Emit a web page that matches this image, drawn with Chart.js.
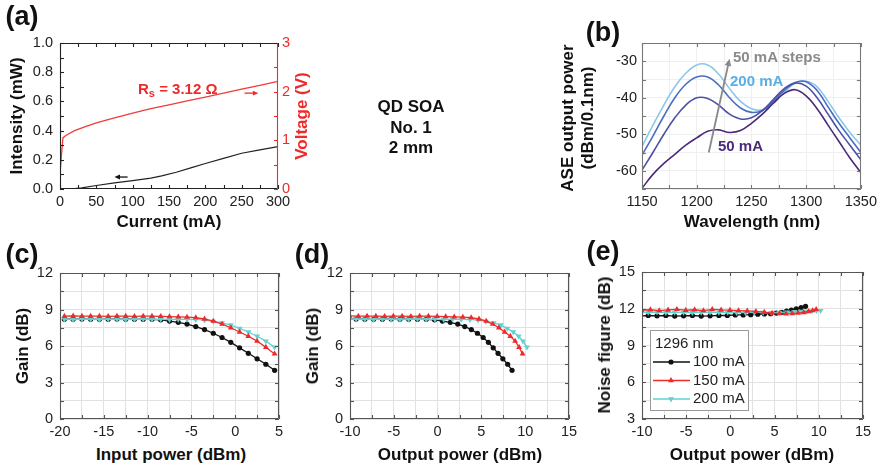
<!DOCTYPE html>
<html>
<head>
<meta charset="utf-8">
<script src="https://cdn.jsdelivr.net/npm/chart.js@4.4.1/dist/chart.umd.min.js"></script>
<style>
body { margin: 0; background: #fff; }
#fig { position: relative; width: 881px; height: 466px; overflow: hidden; background: #fff; font-family: "Liberation Sans", Arial, sans-serif; }
canvas { position: absolute; }
.t { position: absolute; font-weight: bold; font-size: 17px; white-space: nowrap; transform: translate(-50%, -50%); color: #111; }
.r { transform: translate(-50%, -50%) rotate(-90deg); }
.p { font-size: 27px; }
.a { position: absolute; font-weight: bold; font-size: 15px; white-space: nowrap; transform: translateY(-50%); }
</style>
</head>
<body>
<div id="fig">
  <canvas id="ca" width="300" height="215" style="left:0;top:0"></canvas>
  <canvas id="cb" width="281" height="215" style="left:600px;top:0"></canvas>
  <canvas id="cc" width="300" height="215" style="left:0;top:225px"></canvas>
  <canvas id="cd" width="300" height="215" style="left:290px;top:225px"></canvas>
  <canvas id="ce" width="299" height="215" style="left:582px;top:225px"></canvas>

  <div class="t p" style="left:22px;top:16px">(a)</div>
  <div class="t p" style="left:603px;top:32px">(b)</div>
  <div class="t p" style="left:22px;top:254px">(c)</div>
  <div class="t p" style="left:312px;top:254px">(d)</div>
  <div class="t p" style="left:603px;top:251px">(e)</div>

  <div class="t r" style="left:17px;top:116px">Intensity (mW)</div>
  <div class="t r" style="left:302px;top:116px;color:#ee2b2b">Voltage (V)</div>
  <div class="t" style="left:169px;top:222px">Current (mA)</div>
  <div class="a" style="left:138px;top:89px;color:#ee2b2b">R<sub style="font-size:11px;vertical-align:-3px">s</sub> = 3.12 Ω</div>

  <div class="t" style="left:411px;top:128px;text-align:center;line-height:20.5px">QD SOA<br>No. 1<br>2 mm</div>

  <div class="t r" style="left:568px;top:118px">ASE output power</div>
  <div class="t r" style="left:588px;top:118px">(dBm/0.1nm)</div>
  <div class="t" style="left:752px;top:222px">Wavelength (nm)</div>
  <div class="a" style="left:733px;top:56px;color:#8a8a8a">50 mA steps</div>
  <div class="a" style="left:730px;top:80px;color:#5aaee2">200 mA</div>
  <div class="a" style="left:718px;top:145px;color:#4a2a7c">50 mA</div>

  <div class="t r" style="left:23px;top:346px">Gain (dB)</div>
  <div class="t" style="left:171px;top:455px">Input power (dBm)</div>
  <div class="t r" style="left:313px;top:346px">Gain (dB)</div>
  <div class="t" style="left:460px;top:455px">Output power (dBm)</div>
  <div class="t r" style="left:605px;top:345px">Noise figure (dB)</div>
  <div class="t" style="left:752px;top:455px">Output power (dBm)</div>
</div>

<script>
// (a) Intensity / voltage vs current
const currentI = [0, 10, 20, 30, 50, 75, 100, 125, 140, 160, 180, 200, 225, 250, 275, 300];
const intensity = [0, 0, 0.002, 0.008, 0.024, 0.042, 0.058, 0.075, 0.09, 0.115, 0.145, 0.175, 0.21, 0.245, 0.268, 0.29];
const currentV = [0, 2, 4, 8, 20, 35, 50, 75, 100, 125, 150, 175, 200, 225, 250, 275, 300];
const voltage = [0.3, 0.7, 1.05, 1.1, 1.2, 1.28, 1.36, 1.46, 1.56, 1.65, 1.73, 1.81, 1.89, 1.97, 2.05, 2.13, 2.21];

// (b) ASE spectra
const wavelength = [1150, 1160, 1170, 1180, 1190, 1200, 1210, 1220, 1230, 1240, 1250, 1260, 1270, 1280, 1290, 1300, 1310, 1320, 1330, 1340, 1350];
const ase50 = [-64.8, -61, -58, -55.5, -53, -51, -49.2, -48.8, -49.5, -49, -47, -44.5, -41.5, -38.8, -37.8, -39.5, -43, -47.5, -52, -56.5, -60.5];
const ase100 = [-59.8, -55, -50, -45.5, -42, -40, -40.2, -42, -44.5, -45.8, -45.5, -43.5, -40.5, -37.5, -36, -36.8, -40, -44.5, -49, -53, -57];
const ase150 = [-55.7, -50.5, -45, -40, -36.3, -34.3, -34.3, -36.5, -40, -42.8, -44, -43.5, -41, -38, -35.8, -35.6, -38, -42.5, -47, -51, -55];
const ase200 = [-53.4, -47.5, -42, -37, -33.3, -31, -31, -33.5, -37.5, -41, -43, -43.3, -41.5, -38.5, -36, -35.5, -37, -41, -45.5, -49.5, -53];

// (c) gain vs input power
const inputPower = [-19.5, -18.5, -17.5, -16.5, -15.5, -14.5, -13.5, -12.5, -11.5, -10.5, -9.5, -8.5, -7.5, -6.5, -5.5, -4.5, -3.5, -2.5, -1.5, -0.5, 0.5, 1.5, 2.5, 3.5, 4.5];
const gain100 = [8.2, 8.2, 8.21, 8.2, 8.19, 8.2, 8.21, 8.2, 8.2, 8.19, 8.2, 8.15, 8.05, 7.95, 7.8, 7.6, 7.35, 7.05, 6.7, 6.3, 5.85, 5.4, 4.95, 4.5, 4.0];
const gain150 = [8.45, 8.47, 8.45, 8.46, 8.45, 8.44, 8.46, 8.45, 8.44, 8.46, 8.45, 8.44, 8.42, 8.4, 8.38, 8.33, 8.22, 8.05, 7.8, 7.5, 7.15, 6.8, 6.4, 5.9, 5.35];
const gain200 = [8.2, 8.18, 8.22, 8.2, 8.18, 8.21, 8.2, 8.18, 8.2, 8.22, 8.19, 8.2, 8.18, 8.2, 8.19, 8.18, 8.12, 8.02, 7.9, 7.72, 7.45, 7.15, 6.8, 6.4, 5.9];

// (d),(e) output power per point
const out100 = [-11.3, -10.3, -9.3, -8.3, -7.3, -6.3, -5.3, -4.3, -3.3, -2.3, -1.3, -0.35, 0.55, 1.45, 2.3, 3.1, 3.85, 4.55, 5.2, 5.8, 6.35, 6.9, 7.45, 8.0, 8.5];
const out150 = [-11.05, -10.05, -9.05, -8.05, -7.05, -6.05, -5.05, -4.05, -3.05, -2.05, -1.05, -0.05, 0.92, 1.9, 2.88, 3.83, 4.72, 5.55, 6.3, 7.0, 7.65, 8.3, 8.85, 9.3, 9.7];
const out200 = [-11.3, -10.3, -9.3, -8.3, -7.3, -6.3, -5.3, -4.3, -3.3, -2.3, -1.3, -0.3, 0.7, 1.7, 2.7, 3.7, 4.62, 5.52, 6.4, 7.22, 7.95, 8.65, 9.25, 9.75, 10.2];

// (e) noise figure
const nf100 = [11.42, 11.4, 11.45, 11.42, 11.45, 11.4, 11.42, 11.45, 11.4, 11.42, 11.45, 11.45, 11.5, 11.5, 11.52, 11.55, 11.58, 11.6, 11.65, 11.7, 11.8, 11.9, 12.0, 12.1, 12.2];
const nf150 = [11.9, 11.88, 11.92, 11.85, 11.9, 11.95, 11.88, 11.92, 11.85, 11.95, 11.9, 11.88, 11.85, 11.82, 11.78, 11.72, 11.65, 11.6, 11.58, 11.6, 11.65, 11.7, 11.78, 11.85, 11.95];
const nf200 = [11.7, 11.68, 11.7, 11.72, 11.68, 11.7, 11.7, 11.68, 11.7, 11.72, 11.7, 11.7, 11.68, 11.68, 11.7, 11.7, 11.68, 11.7, 11.72, 11.75, 11.78, 11.8, 11.82, 11.85, 11.85];
const legendTitle = '1296 nm';

const tickFont = { family: '"Liberation Sans", Arial, sans-serif', size: 14.5 };
const RED = '#ee2b2b';
const CYAN = '#5fd2d2';

function pts(xs, ys) { return xs.map((x, i) => ({ x: x, y: ys[i] })); }
function every(v, n) { const q = v / n; return Math.abs(q - Math.round(q)) < 1e-6; }

function axis(min, max, step, lab, size, pad, horiz, fmt, grid) {
  return {
    type: 'linear', min: min, max: max,
    grid: grid ? { color: grid, lineWidth: 1, drawTicks: false } : { display: false, drawTicks: false },
    border: { display: false },
    ticks: {
      stepSize: step, autoSkip: false, maxRotation: 0, padding: pad, color: '#222', font: tickFont,
      callback: v => every(v, lab) ? (fmt ? fmt(v) : String(Math.round(v))) : ''
    },
    afterFit: s => { if (horiz) s.height = size; else s.width = size; }
  };
}

// border box and inward ticks
function framePlugin(color, y1Color) {
  return {
    id: 'frame',
    afterDatasetsDraw(chart) {
      const { ctx, chartArea: a, scales } = chart;
      const L = 4;
      ctx.save();
      ctx.lineWidth = 1.1;
      const seg = (x1, y1, x2, y2, c) => {
        ctx.strokeStyle = c; ctx.beginPath(); ctx.moveTo(x1, y1); ctx.lineTo(x2, y2); ctx.stroke();
      };
      scales.x.ticks.forEach(t => {
        const p = Math.round(scales.x.getPixelForValue(t.value)) + 0.5;
        seg(p, a.bottom, p, a.bottom - L, color);
        seg(p, a.top, p, a.top + L, color);
      });
      scales.y.ticks.forEach(t => {
        const p = Math.round(scales.y.getPixelForValue(t.value)) + 0.5;
        seg(a.left, p, a.left + L, p, color);
        if (!scales.y1) seg(a.right, p, a.right - L, p, color);
      });
      if (scales.y1) {
        scales.y1.ticks.forEach(t => {
          const p = Math.round(scales.y1.getPixelForValue(t.value)) + 0.5;
          seg(a.right, p, a.right - L, p, y1Color);
        });
      }
      const l = Math.round(a.left) + 0.5, r = Math.round(a.right) - 0.5;
      const tp = Math.round(a.top) + 0.5, b = Math.round(a.bottom) - 0.5;
      seg(l, tp, r, tp, color);
      seg(l, b, r, b, color);
      seg(l, tp, l, b, color);
      seg(r, tp, r, b, y1Color || color);
      ctx.restore();
    }
  };
}

function drawArrow(ctx, x1, y1, x2, y2, color, w, head) {
  const ang = Math.atan2(y2 - y1, x2 - x1);
  ctx.strokeStyle = color; ctx.fillStyle = color; ctx.lineWidth = w;
  ctx.beginPath();
  ctx.moveTo(x1, y1);
  ctx.lineTo(x2 - head * 0.8 * Math.cos(ang), y2 - head * 0.8 * Math.sin(ang));
  ctx.stroke();
  ctx.beginPath();
  ctx.moveTo(x2, y2);
  ctx.lineTo(x2 - head * Math.cos(ang - 0.42), y2 - head * Math.sin(ang - 0.42));
  ctx.lineTo(x2 - head * Math.cos(ang + 0.42), y2 - head * Math.sin(ang + 0.42));
  ctx.closePath();
  ctx.fill();
}

function arrowsPlugin(list) {
  return {
    id: 'arrows',
    afterDatasetsDraw(chart) {
      const ctx = chart.ctx;
      const sx = chart.scales.x;
      ctx.save();
      list.forEach(ar => {
        const sy = chart.scales[ar.axis || 'y'];
        drawArrow(ctx, sx.getPixelForValue(ar.x1), sy.getPixelForValue(ar.y1),
          sx.getPixelForValue(ar.x2), sy.getPixelForValue(ar.y2), ar.color, ar.width, ar.head);
      });
      ctx.restore();
    }
  };
}

const legendPlugin = {
  id: 'legendBox',
  afterDraw(chart) {
    const { ctx, chartArea: a } = chart;
    const x0 = Math.round(a.left) + 8, y0 = Math.round(a.top) + 58, w = 98, h = 80;
    ctx.save();
    ctx.fillStyle = '#fff';
    ctx.fillRect(x0, y0, w, h);
    ctx.strokeStyle = '#9a9a9a';
    ctx.lineWidth = 1;
    ctx.strokeRect(x0 + 0.5, y0 + 0.5, w, h);
    ctx.font = '15px "Liberation Sans", Arial, sans-serif';
    ctx.textBaseline = 'middle';
    ctx.fillStyle = '#222';
    ctx.fillText(legendTitle, x0 + 5, y0 + 14);
    chart.data.datasets.forEach((ds, i) => {
      const yy = y0 + 32 + i * 18.5;
      ctx.strokeStyle = ds.borderColor;
      ctx.lineWidth = 1.5;
      ctx.beginPath(); ctx.moveTo(x0 + 3, yy); ctx.lineTo(x0 + 40, yy); ctx.stroke();
      ctx.fillStyle = ds.backgroundColor;
      Chart.helpers.drawPoint(ctx, { pointStyle: ds.pointStyle, rotation: ds.rotation || 0, radius: ds.pointRadius, borderWidth: 0 }, x0 + 21, yy);
      ctx.fillStyle = '#222';
      ctx.fillText(ds.label, x0 + 43, yy);
    });
    ctx.restore();
  }
};

function baseOptions(padding, scales) {
  return {
    responsive: false, animation: false,
    layout: { padding: padding },
    plugins: { legend: { display: false }, tooltip: { enabled: false } },
    scales: scales
  };
}

// black drawn first, red last (on top)
function gainSets(x100, y100, x150, y150, x200, y200) {
  return [
    { label: '100 mA', data: pts(x100, y100), order: 3, showLine: true, borderColor: '#111', backgroundColor: '#111', borderWidth: 1.3, pointStyle: 'circle', pointRadius: 2.6, pointBorderWidth: 0, clip: 0 },
    { label: '150 mA', data: pts(x150, y150), order: 1, showLine: true, borderColor: RED, backgroundColor: RED, borderWidth: 1.3, pointStyle: 'triangle', pointRadius: 3.4, pointBorderWidth: 0, clip: 0 },
    { label: '200 mA', data: pts(x200, y200), order: 2, showLine: true, borderColor: CYAN, backgroundColor: CYAN, borderWidth: 1.3, pointStyle: 'triangle', rotation: 180, pointRadius: 3.4, pointBorderWidth: 0, clip: 0 }
  ];
}

// (a)
const y1a = axis(0, 3, 0.5, 1, 22, 4, false);
y1a.position = 'right';
y1a.ticks.color = RED;
new Chart(document.getElementById('ca'), {
  type: 'scatter',
  data: {
    datasets: [
      { data: pts(currentI, intensity), showLine: true, borderColor: '#222', borderWidth: 1.2, pointRadius: 0, yAxisID: 'y' },
      { data: pts(currentV, voltage), showLine: true, borderColor: '#ef3b3b', borderWidth: 1.3, pointRadius: 0, yAxisID: 'y1' }
    ]
  },
  options: baseOptions({ top: 43, left: 0, right: 0, bottom: 0 }, {
    x: axis(0, 300, 25, 50, 26, 4, true),
    y: axis(0, 1, 0.1, 0.2, 60, 7, false, v => v.toFixed(1)),
    y1: y1a
  }),
  plugins: [framePlugin('#222', RED), arrowsPlugin([
    { x1: 93, y1: 0.082, x2: 75, y2: 0.082, color: '#111', width: 1.3, head: 6 },
    { x1: 254, y1: 1.97, x2: 273, y2: 1.97, axis: 'y1', color: RED, width: 1.3, head: 6 }
  ])]
});

// (b)
new Chart(document.getElementById('cb'), {
  type: 'scatter',
  data: {
    datasets: [
      { data: pts(wavelength, ase50), showLine: true, borderColor: '#4b2b78', borderWidth: 1.6, pointRadius: 0, tension: 0.4 },
      { data: pts(wavelength, ase100), showLine: true, borderColor: '#4b50a2', borderWidth: 1.6, pointRadius: 0, tension: 0.4 },
      { data: pts(wavelength, ase150), showLine: true, borderColor: '#4a6ec2', borderWidth: 1.6, pointRadius: 0, tension: 0.4 },
      { data: pts(wavelength, ase200), showLine: true, borderColor: '#8cc6ea', borderWidth: 1.6, pointRadius: 0, tension: 0.4 }
    ]
  },
  options: baseOptions({ top: 43, left: 0, right: 19, bottom: 0 }, {
    x: axis(1150, 1350, 25, 50, 26, 4, true, null, '#efefef'),
    y: axis(-65, -25, 5, 10, 42, 5, false, null, '#efefef')
  }),
  plugins: [framePlugin('#777'), arrowsPlugin([
    { x1: 1211, y1: -55, x2: 1230, y2: -29.3, color: '#888', width: 1.8, head: 8 }
  ])]
});

// (c)
new Chart(document.getElementById('cc'), {
  type: 'scatter',
  data: { datasets: gainSets(inputPower, gain100, inputPower, gain150, inputPower, gain200) },
  options: baseOptions({ top: 48, left: 0, right: 21, bottom: 0 }, {
    x: axis(-20, 5, 2.5, 5, 21, 4, true, null, '#e2e2e2'),
    y: axis(0, 12, 1.5, 3, 60, 7, false, null, '#e2e2e2')
  }),
  plugins: [framePlugin('#555')]
});

// (d)
new Chart(document.getElementById('cd'), {
  type: 'scatter',
  data: { datasets: gainSets(out100, gain100, out150, gain150, out200, gain200) },
  options: baseOptions({ top: 48, left: 0, right: 21, bottom: 0 }, {
    x: axis(-10, 15, 2.5, 5, 21, 4, true, null, '#e2e2e2'),
    y: axis(0, 12, 1.5, 3, 60, 7, false, null, '#e2e2e2')
  }),
  plugins: [framePlugin('#555')]
});

// (e)
new Chart(document.getElementById('ce'), {
  type: 'scatter',
  data: { datasets: gainSets(out100, nf100, out150, nf150, out200, nf200) },
  options: baseOptions({ top: 47, left: 0, right: 18, bottom: 0 }, {
    x: axis(-10, 15, 2.5, 5, 21, 4, true, null, '#e2e2e2'),
    y: axis(3, 15, 1.5, 3, 60, 7, false, null, '#e2e2e2')
  }),
  plugins: [framePlugin('#555'), legendPlugin]
});
</script>
</body>
</html>
